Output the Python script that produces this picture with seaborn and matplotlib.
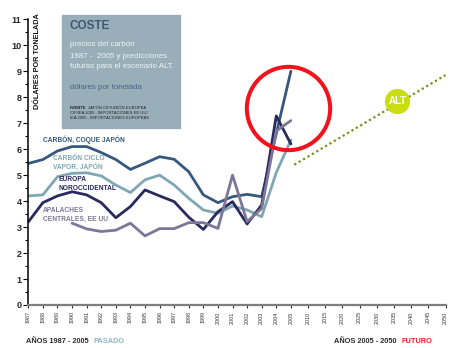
import numpy as np
import pandas as pd
import matplotlib
matplotlib.use("Agg")
import matplotlib.pyplot as plt
from matplotlib.patches import Rectangle
import seaborn as sns

# --- data -------------------------------------------------------------
years_past = list(range(1987, 2006))
coque_japon = [5.45, 5.6, 5.93, 6.1, 6.1, 5.87, 5.6, 5.22, 5.46, 5.71,
               5.61, 5.13, 4.24, 3.94, 4.17, 4.26, 4.17, 6.6, 9.0]
vapor_japon = [4.2, 4.24, 4.94, 5.07, 5.09, 4.97, 4.62, 4.33, 4.82, 5.0,
               4.62, 4.11, 3.66, 3.53, 3.81, 3.66, 3.4, 5.1, 6.35]
europa_nw = [3.2, 3.94, 4.2, 4.36, 4.24, 3.94, 3.36, 3.79, 4.43, 4.2,
             3.98, 3.38, 2.91, 3.59, 3.98, 3.12, 3.85, 7.28, 6.2]
years_apalaches = list(range(1990, 2006))
apalaches = [3.15, 2.93, 2.83, 2.88, 3.15, 2.66, 2.94, 2.94, 3.17, 3.17,
             2.95, 5.0, 3.21, 3.72, 6.7, 7.1]

alt_years = [2006, 2050]
alt_values = [5.4, 8.85]
alt_badge_year, alt_badge_value = 2036, 7.85

series_names = ["CARBÓN, COQUE JAPÓN", "CARBÓN CICLO\nVAPOR, JAPÓN",
                "EUROPA\nNOROCCIDENTAL", "APALACHES\nCENTRALES, EE UU"]
series_colors = ["#35587c", "#7fa7b3", "#2a285e", "#7d7699"]

tick_years = list(range(1987, 2006)) + list(range(2010, 2051, 5))
tick_labels = [str(y) for y in tick_years]

# --- long table --------------------------------------------------------
rows = []
for name, xs, ys in zip(series_names,
                        [years_past, years_past, years_past, years_apalaches],
                        [coque_japon, vapor_japon, europa_nw, apalaches]):
    for x, y in zip(xs, ys):
        rows.append({"año": x, "valor": y, "serie": name})
df = pd.DataFrame(rows)

# --- figure ------------------------------------------------------------
sns.set_style("white")
plt.rcParams["font.family"] = ["Liberation Sans", "DejaVu Sans"]

W, H = 455, 348
fig = plt.figure(figsize=(W / 100, H / 100), dpi=100)
ax = fig.add_axes([28.3 / W, 1 - 305 / H, (445.5 - 28.3) / W, (305 - 19.3) / H])

# past years get wide spacing, the projection decades a compressed one
R = 10.6 / 45.0


def fwd(x):
    x = np.asarray(x, dtype=float)
    return np.where(x <= 2005, x - 1987, 18 + (x - 2005) * R)


def inv(u):
    u = np.asarray(u, dtype=float)
    return np.where(u <= 18, u + 1987, 2005 + (u - 18) / R)


ax.set_xscale("function", functions=(fwd, inv))

sns.lineplot(data=df, x="año", y="valor", hue="serie",
             hue_order=series_names, palette=series_colors,
             linewidth=2.0, legend=False, ax=ax, estimator=None)

sns.lineplot(x=alt_years, y=alt_values, color="#7d8c1e", linewidth=1.6,
             linestyle=(0, (1, 1.3)), ax=ax)

# highlight ring around the latest prices
ax.plot([2004.82], [7.59], marker="o", ms=60, mfc="none", mec="#f2121c",
        mew=2.9, zorder=5, clip_on=False)

# ALT scenario badge
ax.scatter([alt_badge_year], [alt_badge_value], s=330, color="#c9dd12",
           zorder=6, linewidths=0)
ax.text(alt_badge_year, alt_badge_value, "ALT", color="white",
        fontsize=7, fontweight="bold", ha="center", va="center", zorder=7)

ax.set_xlim(1987, 2050)
ax.set_ylim(0, 11)
ax.set_xticks(tick_years)
ax.set_xticklabels(tick_labels, rotation=90, fontsize=3.9, color="#333333")
ax.set_yticks(range(0, 12))
ax.set_yticks(np.arange(0.5, 11, 1.0), minor=True)
ax.tick_params(axis="y", which="major", length=3.5, width=0.8, color="black",
               labelsize=6.5, pad=1.5, left=True)
ax.tick_params(axis="y", which="minor", length=2.2, width=0.8, color="black",
               left=True)
ax.tick_params(axis="x", which="major", length=2.5, width=0.8, color="#333333",
               pad=2, bottom=True)
ax.tick_params(axis="x", which="minor", bottom=False)
for lab in ax.get_yticklabels():
    lab.set_fontweight("bold")
ax.set_xlabel("")
ax.set_ylabel("")

for side in ["top", "right"]:
    ax.spines[side].set_visible(False)
ax.spines["left"].set_color("black")
ax.spines["left"].set_linewidth(1.1)
ax.spines["bottom"].set_color("#7f7f7f")
ax.spines["bottom"].set_linewidth(1.6)


def fx(px):
    return px / W


def fy(py):
    return 1 - py / H


# y axis title
fig.text(fx(37.5), fy(13), "DÓLARES POR TONELADA", rotation=90,
         fontsize=5.2, fontweight="bold", ha="center", va="top",
         color="#111111")

# series labels
lab_kw = dict(fontsize=4.8, fontweight="bold", va="center")
fig.text(fx(42.7), fy(139.3), "CARBÓN, COQUE JAPÓN", color=series_colors[0], **lab_kw)
fig.text(fx(52.7), fy(158.4), "CARBÓN CICLO", color=series_colors[1], **lab_kw)
fig.text(fx(52.7), fy(166.8), "VAPOR, JAPÓN", color=series_colors[1], **lab_kw)
fig.text(fx(58.3), fy(179.8), "EUROPA", color=series_colors[2], **lab_kw)
fig.text(fx(58.3), fy(188.5), "NOROCCIDENTAL", color=series_colors[2], **lab_kw)
fig.text(fx(43.3), fy(210), "APALACHES", color=series_colors[3], **lab_kw)
fig.text(fx(43.3), fy(219), "CENTRALES, EE UU", color=series_colors[3], **lab_kw)

# info panel
fig.patches.append(Rectangle((fx(62), fy(128)), (180 - 62) / W, (128 - 15) / H,
                             transform=fig.transFigure, color="#98aeb8",
                             zorder=0))
fig.text(fx(70), fy(26), "COSTE", fontsize=8.5, fontweight="bold",
         color="#3a5878", va="center")
for y, t in [(45, "precios del carbón"),
             (57, "1987 -  2005 y predicciones"),
             (66.5, "futuras para el escenario ALT.")]:
    fig.text(fx(70), fy(y), t, fontsize=5.7, color="#eef3f5", va="center")
fig.text(fx(70), fy(87.5), "dólares por tonelada", fontsize=5.7,
         color="#45648a", va="center")

src_kw = dict(fontsize=3.0, color="#262626", va="center")
fuente = fig.text(fx(70), fy(107.7), "FUENTE", fontweight="bold", **src_kw)
fig.canvas.draw()
bb = fuente.get_window_extent()
fig.text(fx(bb.x1 + 1.5), fy(107.7), "JAPÓN CIF/UNIÓN EUROPEA", **src_kw)
fig.text(fx(70), fy(113.2), "CIF/IEA 2005 - IMPORTACIONES EE UU/", **src_kw)
fig.text(fx(70), fy(118.4), "IEA 2005 - IMPORTACIONES EUROPEAS", **src_kw)

# period captions
cap_kw = dict(fontsize=5.3, fontweight="bold", va="center")
fig.text(fx(26), fy(341.7), "AÑOS 1987 - 2005", color="#2b2b2b", **cap_kw)
fig.text(fx(94), fy(341.7), "PASADO", color="#8db5c4", **cap_kw)
fig.text(fx(334.3), fy(341.2), "AÑOS 2005 - 2050", color="#2b2b2b", **cap_kw)
fig.text(fx(402), fy(341.2), "FUTURO", color="#ee1c25", **cap_kw)

fig.savefig("out.png", dpi=100)
